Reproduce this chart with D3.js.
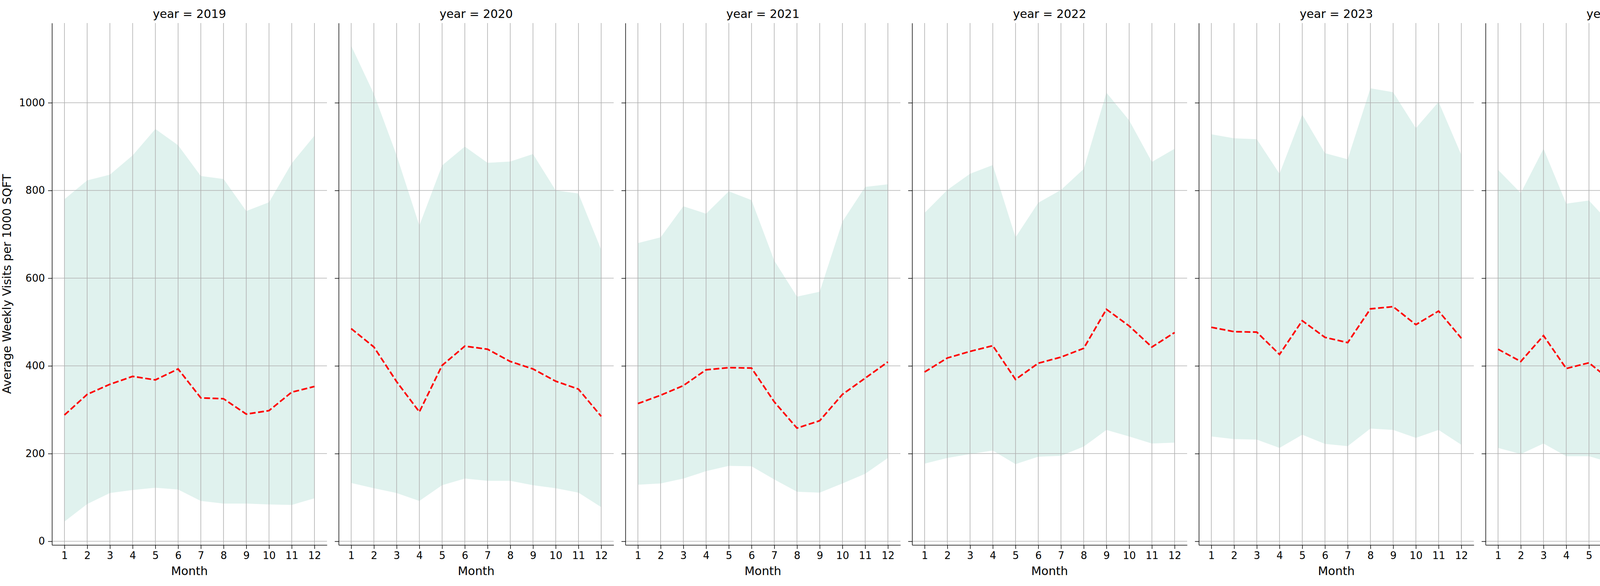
<!DOCTYPE html>
<html><head><meta charset="utf-8">
<script src="https://cdn.jsdelivr.net/npm/d3@7"></script>
<style>body{margin:0;background:#fff}</style></head>
<body><svg id="c" width="6000" height="1500"></svg>
<script>
const years = [2019,2020,2021,2022,2023,2024,2025,2026];
const months = [1,2,3,4,5,6,7,8,9,10,11,12];
const yTicks = [0,200,400,600,800,1000];
const median = {
 2019:[288,335,358,376,368,393,327,325,290,298,340,353],
 2020:[485,443,364,295,401,445,438,410,393,365,347,285],
 2021:[314,333,355,391,396,395,318,258,275,335,372,409],
 2022:[386,418,433,446,369,406,420,440,529,491,443,476],
 2023:[488,478,477,426,503,465,453,530,535,494,525,463],
 2024:[438,410,469,394,407,365,360,469,412,454,430,454],
 2025:[503,386,385,322,352,407,324,362,333,419,436,557],
 2026:[]
};
const p75 = {
 2019:[780,823,836,880,940,903,833,826,753,773,862,925],
 2020:[1130,1020,880,720,857,900,863,866,883,800,793,665],
 2021:[680,693,764,747,798,778,640,558,569,729,808,814],
 2022:[749,801,838,858,693,772,801,849,1023,960,865,895],
 2023:[928,919,917,838,973,885,871,1033,1024,942,1002,881],
 2024:[847,794,895,770,777,721,699,919,806,899,830,898],
 2025:[966,764,734,629,685,800,638,708,640,827,861,1101],
 2026:[]
};
const p25 = {
 2019:[45,85,110,117,122,118,92,86,86,84,83,98],
 2020:[133,121,110,92,128,143,138,138,128,121,111,78],
 2021:[129,132,143,160,172,171,141,113,111,132,154,190],
 2022:[177,190,199,207,176,193,195,216,254,239,223,225],
 2023:[239,233,232,213,243,222,217,257,254,236,254,220],
 2024:[213,199,223,194,194,179,176,228,205,224,214,217],
 2025:[235,193,180,159,173,194,158,179,159,209,213,267],
 2026:[]
};
const svg = d3.select("#c");
const font = "DejaVu Sans";
const plotTop = 59, plotBottom = 1395, x0 = 133, pw = 704, step = 734;
const fill = "#e0f2ee";
const y = d3.scaleLinear().domain([-8.4,1181.7]).range([plotBottom, plotTop]);
years.forEach((yr,i)=>{
  const left = x0 + i*step;
  const x = d3.scaleLinear().domain([0.45,12.55]).range([left,left+pw]);
  const g = svg.append("g");
  const data = months.map((m,j)=>({m, lo:p25[yr][j], hi:p75[yr][j], md:median[yr][j]})).filter(d=>d.md!==undefined);
  if (data.length){
    g.append("path").datum(data).attr("fill",fill)
      .attr("d", d3.area().x(d=>x(d.m)).y0(d=>y(d.lo)).y1(d=>y(d.hi)));
  }
  g.selectAll(".vg").data(months).enter().append("line")
    .attr("x1",d=>x(d)).attr("x2",d=>x(d)).attr("y1",plotTop).attr("y2",plotBottom)
    .attr("stroke","#b0b0b0").attr("stroke-width",1.6);
  g.selectAll(".hg").data(yTicks).enter().append("line")
    .attr("x1",left).attr("x2",left+pw).attr("y1",d=>y(d)).attr("y2",d=>y(d))
    .attr("stroke","#b0b0b0").attr("stroke-width",1.6);
  if (data.length){
    g.append("path").datum(data).attr("fill","none").attr("stroke","#ff0000")
      .attr("stroke-width",4.2).attr("stroke-dasharray","15,6.5")
      .attr("d", d3.line().x(d=>x(d.m)).y(d=>y(d.md)));
  }
  const xa = g.append("g").attr("transform",`translate(0,${plotBottom})`)
    .call(d3.axisBottom(x).tickValues(months).tickSize(10).tickPadding(8).tickSizeOuter(0));
  const ya = g.append("g").attr("transform",`translate(${left},0)`)
    .call(d3.axisLeft(y).tickValues(yTicks).tickSize(10).tickPadding(8).tickSizeOuter(0)
      .tickFormat(i===0? d3.format("d") : ()=>""));
  [xa,ya].forEach(a=>{
    a.selectAll("text").attr("font-family",font).attr("font-size",26).attr("fill","#000");
    a.selectAll("line").attr("stroke","#000").attr("stroke-width",1.5);
    a.select(".domain").attr("stroke","#000").attr("stroke-width",1.5);
  });
  g.append("text").attr("x",left+pw/2).attr("y",46).attr("text-anchor","middle")
    .attr("font-family",font).attr("font-size",30).text(`year = ${yr}`);
  g.append("text").attr("x",left+pw/2).attr("y",1472).attr("text-anchor","middle")
    .attr("font-family",font).attr("font-size",30).text("Month");
});
svg.append("text").attr("transform","translate(28,727) rotate(-90)").attr("text-anchor","middle")
  .attr("font-family",font).attr("font-size",30).text("Average Weekly Visits per 1000 SQFT");
const lg = svg.append("g");
lg.append("rect").attr("x",5522).attr("y",102).attr("width",458).attr("height",110).attr("rx",6)
  .attr("fill","#fff").attr("fill-opacity",0.8).attr("stroke","#ccc").attr("stroke-width",1.5);
lg.append("line").attr("x1",5535).attr("x2",5604).attr("y1",130).attr("y2",130)
  .attr("stroke","#ff0000").attr("stroke-width",4.2).attr("stroke-dasharray","15,6.5");
lg.append("rect").attr("x",5535).attr("y",170).attr("width",69).attr("height",22).attr("fill",fill);
lg.append("text").attr("x",5629).attr("y",140).attr("font-family",font).attr("font-size",30).text("Median");
lg.append("text").attr("x",5629).attr("y",191).attr("font-family",font).attr("font-size",30).text("25th-75th Percentile");
</script></body></html>
